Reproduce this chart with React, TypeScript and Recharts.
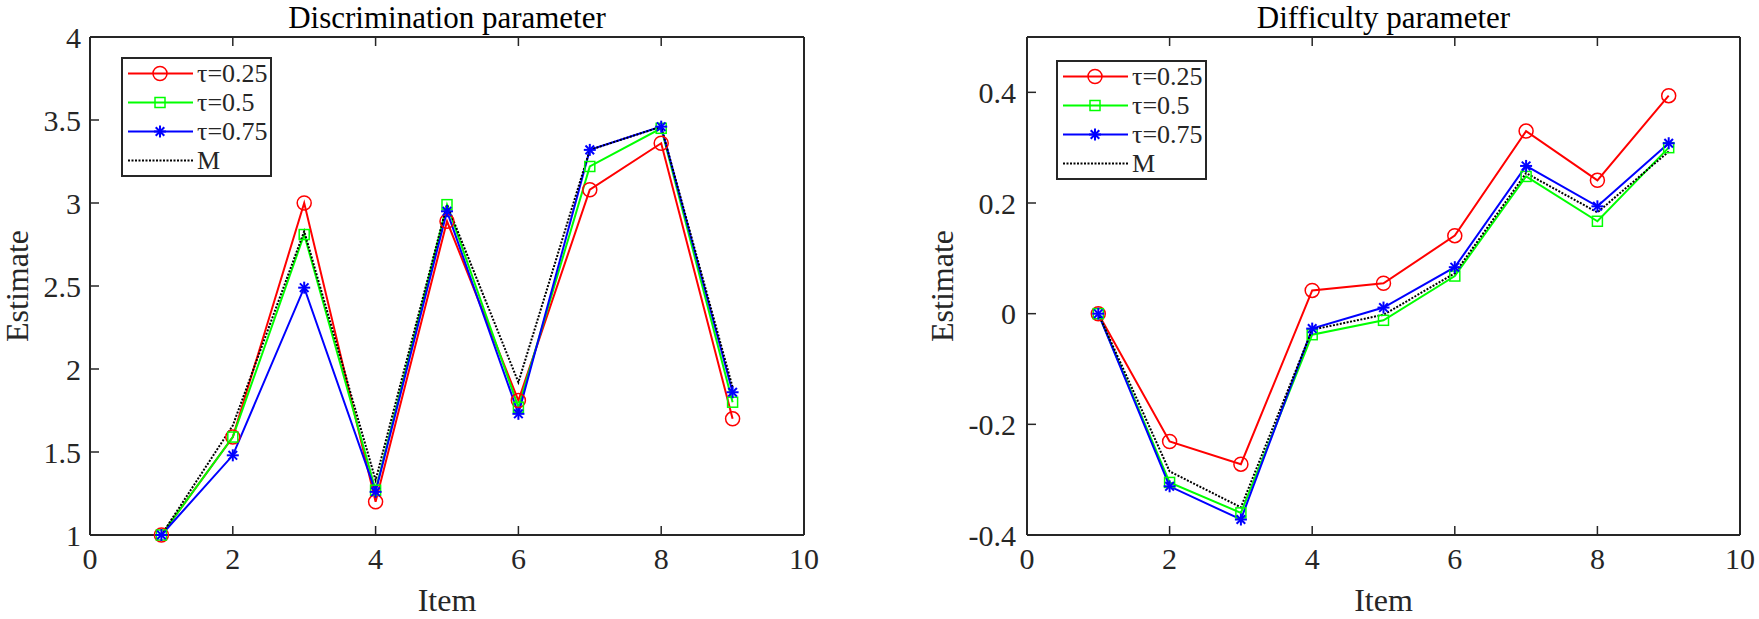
import React from 'react';
import { LineChart, Line, XAxis, YAxis, Legend } from 'recharts';

// item numbers on the x axis
const items = [1, 2, 3, 4, 5, 6, 7, 8, 9];
const xTicks = [0, 2, 4, 6, 8, 10];

// discrimination parameter estimates
const discTau25 = [1.0, 1.59, 3.0, 1.2, 2.89, 1.81, 3.08, 3.36, 1.7];
const discTau50 = [1.0, 1.59, 2.81, 1.27, 2.99, 1.77, 3.22, 3.45, 1.8];
const discTau75 = [1.0, 1.48, 2.49, 1.26, 2.95, 1.73, 3.32, 3.46, 1.86];
const discM = [1.0, 1.66, 2.83, 1.33, 2.99, 1.92, 3.32, 3.46, 1.89];
const discTicks = [1, 1.5, 2, 2.5, 3, 3.5, 4];

// difficulty parameter estimates
const diffTau25 = [0, -0.231, -0.272, 0.042, 0.055, 0.141, 0.33, 0.241, 0.394];
const diffTau50 = [0, -0.305, -0.36, -0.038, -0.012, 0.068, 0.248, 0.167, 0.3];
const diffTau75 = [0, -0.312, -0.372, -0.027, 0.011, 0.084, 0.267, 0.194, 0.308];
const diffM = [0, -0.285, -0.35, -0.029, -0.002, 0.073, 0.254, 0.183, 0.293];
const diffTicks = [-0.4, -0.2, 0, 0.2, 0.4];

const seriesNames = ['τ=0.25', 'τ=0.5', 'τ=0.75', 'M'];

const FONT = '"Liberation Serif", "Times New Roman", "DejaVu Serif", serif';
const INK = '#262626';

const buildRows = (a: number[], b: number[], c: number[], d: number[]) =>
  items.map((item, i) => ({ item, t25: a[i], t50: b[i], t75: c[i], m: d[i] }));

const discData = buildRows(discTau25, discTau50, discTau75, discM);
const diffData = buildRows(diffTau25, diffTau50, diffTau75, diffM);

// MATLAB-like markers
const CircleMark = ({ cx, cy }: { cx: number; cy: number }) => (
  <circle cx={cx} cy={cy} r={7} fill="none" stroke="#ff0000" strokeWidth={1.5} />
);
const SquareMark = ({ cx, cy }: { cx: number; cy: number }) => (
  <rect x={cx - 5} y={cy - 5} width={10} height={10} fill="none" stroke="#00ff00" strokeWidth={1.5} />
);
const StarMark = ({ cx, cy }: { cx: number; cy: number }) => {
  const s = 6;
  const d = 4.3;
  return (
    <g stroke="#0000ff" strokeWidth={2}>
      <line x1={cx - s} y1={cy} x2={cx + s} y2={cy} />
      <line x1={cx} y1={cy - s} x2={cx} y2={cy + s} />
      <line x1={cx - d} y1={cy - d} x2={cx + d} y2={cy + d} />
      <line x1={cx - d} y1={cy + d} x2={cx + d} y2={cy - d} />
    </g>
  );
};

const circleDot = (p: any) => <CircleMark key={`c${p.index}`} cx={p.cx} cy={p.cy} />;
const squareDot = (p: any) => <SquareMark key={`s${p.index}`} cx={p.cx} cy={p.cy} />;
const starDot = (p: any) => <StarMark key={`a${p.index}`} cx={p.cx} cy={p.cy} />;

const NoTick = () => <g />;

const LegendBox = () => {
  const rowH = 29;
  const sample = (i: number) => {
    const y = rowH / 2;
    return (
      <svg width={65} height={rowH} style={{ display: 'block' }}>
        {i === 0 && <line x1={0} y1={y} x2={65} y2={y} stroke="#ff0000" strokeWidth={2} />}
        {i === 1 && <line x1={0} y1={y} x2={65} y2={y} stroke="#00ff00" strokeWidth={2} />}
        {i === 2 && <line x1={0} y1={y} x2={65} y2={y} stroke="#0000ff" strokeWidth={2} />}
        {i === 3 && <line x1={0} y1={y} x2={65} y2={y} stroke="#000" strokeWidth={2} strokeDasharray="2 1.5" />}
        {i === 0 && <CircleMark cx={32} cy={y} />}
        {i === 1 && <SquareMark cx={32} cy={y} />}
        {i === 2 && <StarMark cx={32} cy={y} />}
      </svg>
    );
  };
  return (
    <div
      style={{
        border: `2.5px solid ${INK}`,
        background: '#fff',
        width: 147,
        height: 116,
        boxSizing: 'content-box',
        fontFamily: FONT,
        fontSize: 26,
        color: INK,
      }}
    >
      {seriesNames.map((name, i) => (
        <div key={name} style={{ display: 'flex', alignItems: 'center', height: rowH, paddingLeft: 5 }}>
          {sample(i)}
          <span style={{ marginLeft: 4, lineHeight: `${rowH}px` }}>{name}</span>
        </div>
      ))}
    </div>
  );
};

type PanelProps = {
  width: number;
  leftW: number;
  rightW: number;
  title: string;
  data: any[];
  yDomain: [number, number];
  yTicks: number[];
  yTickMargin: number;
  yLabelOffset: number;
  legendLeft: number;
  legendTop: number;
};

function Panel(props: PanelProps) {
  const { width, leftW, rightW, title, data, yDomain, yTicks, yTickMargin, yLabelOffset, legendLeft, legendTop } = props;
  const axisStroke = { stroke: INK, strokeWidth: 2 };
  const tickStyle = { fontSize: 30, fill: INK, fontFamily: FONT };
  return (
    <LineChart width={width} height={619} data={data} margin={{ top: 0, right: 0, bottom: 0, left: 0 }}>
      <XAxis
        type="number"
        dataKey="item"
        domain={[0, 10]}
        ticks={xTicks}
        interval={0}
        height={84}
        axisLine={axisStroke}
        tickLine={{ stroke: INK, strokeWidth: 1.5 }}
        tickSize={-9}
        tickMargin={22}
        tick={tickStyle}
        label={{ value: 'Item', position: 'insideBottom', offset: 8, style: { fontSize: 32, fill: INK, fontFamily: FONT } }}
      />
      <XAxis
        xAxisId="top"
        orientation="top"
        type="number"
        dataKey="item"
        domain={[0, 10]}
        ticks={xTicks}
        interval={0}
        height={37}
        axisLine={axisStroke}
        tickLine={{ stroke: INK, strokeWidth: 1.5 }}
        tickSize={-9}
        tick={NoTick}
        label={{ value: title, position: 'insideTop', offset: 6, style: { fontSize: 31, fill: '#000', fontFamily: FONT } }}
      />
      <YAxis
        type="number"
        domain={yDomain}
        ticks={yTicks}
        interval={0}
        width={leftW}
        axisLine={axisStroke}
        tickLine={{ stroke: INK, strokeWidth: 1.5 }}
        tickSize={-9}
        tickMargin={yTickMargin}
        tick={tickStyle}
        label={{
          value: 'Estimate',
          angle: -90,
          position: 'insideLeft',
          offset: yLabelOffset,
          textAnchor: 'middle',
          style: { fontSize: 32, fill: INK, fontFamily: FONT, textAnchor: 'middle' },
        }}
      />
      <YAxis
        yAxisId="right"
        orientation="right"
        type="number"
        domain={yDomain}
        ticks={yTicks}
        interval={0}
        width={rightW}
        axisLine={axisStroke}
        tickLine={{ stroke: INK, strokeWidth: 1.5 }}
        tickSize={-9}
        tick={NoTick}
      />
      <Legend
        layout="horizontal"
        verticalAlign="middle"
        align="center"
        wrapperStyle={{ left: legendLeft, top: legendTop, width: 152, height: 121 }}
        content={() => <LegendBox />}
      />
      <Line type="linear" dataKey="t25" name={seriesNames[0]} stroke="#ff0000" strokeWidth={2} dot={circleDot} activeDot={false} isAnimationActive={false} />
      <Line type="linear" dataKey="t50" name={seriesNames[1]} stroke="#00ff00" strokeWidth={2} dot={squareDot} activeDot={false} isAnimationActive={false} />
      <Line type="linear" dataKey="t75" name={seriesNames[2]} stroke="#0000ff" strokeWidth={2} dot={starDot} activeDot={false} isAnimationActive={false} />
      <Line type="linear" dataKey="m" name={seriesNames[3]} stroke="#000000" strokeWidth={2} strokeDasharray="2 1.5" dot={false} activeDot={false} isAnimationActive={false} />
    </LineChart>
  );
}

export default function App() {
  return (
    <div style={{ position: 'absolute', left: 0, top: 0, width: 1759, height: 619, background: '#fff', overflow: 'hidden' }}>
      <div style={{ position: 'absolute', left: 0, top: 0 }}>
        <Panel
          width={880}
          leftW={90}
          rightW={76}
          title="Discrimination parameter"
          data={discData}
          yDomain={[1, 4]}
          yTicks={discTicks}
          yTickMargin={18}
          yLabelOffset={17}
          legendLeft={121}
          legendTop={57}
        />
      </div>
      <div style={{ position: 'absolute', left: 880, top: 0 }}>
        <Panel
          width={879}
          leftW={147}
          rightW={19}
          title="Difficulty parameter"
          data={diffData}
          yDomain={[-0.4, 0.5]}
          yTicks={diffTicks}
          yTickMargin={20}
          yLabelOffset={62}
          legendLeft={176}
          legendTop={60}
        />
      </div>
    </div>
  );
}
